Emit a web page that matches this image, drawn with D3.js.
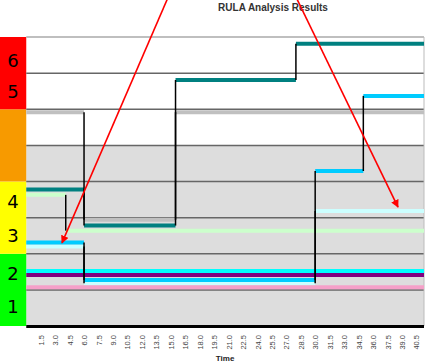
<!DOCTYPE html>
<html>
<head>
<meta charset="utf-8">
<title>RULA Analysis Results</title>
<style>
    body { margin: 0; background: #fff; }
    svg { display: block; font-family: "Liberation Sans", Arial, sans-serif; }
</style>
</head>
<body>
<div id="chart"></div>
<script src="https://d3js.org/d3.v7.min.js"></script>
<script>

// time axis labels
var timeTicks = ["1.5","3.0","4.5","6.0","7.5","9.0","10.5","12.0","13.5","15.0","16.5","18.0","19.5",
    "21.0","22.5","24.0","25.5","27.0","28.5","30.0","31.5","33.0","34.5","36.0","37.5","39.0","40.5"];

// score zones on the left strip
var zoneFrom   = [0, 2, 4, 6];
var zoneTo     = [2, 4, 6, 8];
var zoneColors = ["#00ff00", "#ffff00", "#f79a00", "#ff0000"];
var scoreLabels = ["1", "2", "3", "4", "5", "6"];
var scoreLabelAt = [0.55, 1.45, 2.5, 3.45, 6.5, 7.35];

// each series: times where the value changes, value held until the next change
var seriesNames  = ["gray", "lightGreen", "lightCyan", "skyBlue", "cyan", "purple", "pink", "teal"];
var seriesColors = ["#c0c0c0", "#ccffcc", "#ccffff", "#00ccff", "#00ffff", "#800080", "#f5a0c8", "#008080"];
var grayTimes       = [0, 6, 15.5];
var grayValues      = [5.92, 2.94, 5.92];
var lightGreenTimes = [0, 4.1];
var lightGreenValues= [3.63, 2.64];
var lightCyanTimes  = [0, 6, 30];
var lightCyanValues = [2.2, 1.18, 3.18];
var skyBlueTimes    = [0, 6, 30, 35];
var skyBlueValues   = [2.31, 1.27, 4.29, 6.37];
var cyanTimes       = [0];
var cyanValues      = [1.52];
var purpleTimes     = [0];
var purpleValues    = [1.41];
var pinkTimes       = [0];
var pinkValues      = [1.07];
var tealTimes       = [0, 6, 15.5, 28];
var tealValues      = [3.78, 2.78, 6.81, 7.81];

// red annotation arrows, [time, score] from -> to
var arrowFrom = [[14.73, 9.1], [28.02, 9.1]];
var arrowTo   = [[3.71, 2.3], [38.6, 3.29]];

var tEnd = 41.3;

var seriesTimes  = [grayTimes, lightGreenTimes, lightCyanTimes, skyBlueTimes, cyanTimes, purpleTimes, pinkTimes, tealTimes];
var seriesValues = [grayValues, lightGreenValues, lightCyanValues, skyBlueValues, cyanValues, purpleValues, pinkValues, tealValues];

var W = 429, H = 364;
var plotLeft = 26.25, plotRight = 424, plotTop = 37, plotBottom = 326;

var x = d3.scaleLinear().domain([0, tEnd]).range([plotLeft, plotRight]);
var y = d3.scaleLinear().domain([0, 8]).range([plotBottom, plotTop]);

var svg = d3.select("#chart").append("svg")
    .attr("width", W)
    .attr("height", H);

// plot background: white above 5, grey below
svg.append("rect")
    .attr("x", x(0)).attr("y", y(8))
    .attr("width", x(tEnd) - x(0)).attr("height", y(0) - y(8))
    .attr("fill", "#fff");
svg.append("rect")
    .attr("x", x(0)).attr("y", y(5))
    .attr("width", x(tEnd) - x(0)).attr("height", y(0) - y(5))
    .attr("fill", "#dddddd");

// left colour strip
svg.selectAll(".zone")
    .data(zoneFrom)
    .enter().append("rect")
    .attr("class", "zone")
    .attr("x", 0)
    .attr("y", function(d, i) { return y(zoneTo[i]); })
    .attr("width", x(0))
    .attr("height", function(d, i) { return y(zoneFrom[i]) - y(zoneTo[i]); })
    .attr("fill", function(d, i) { return zoneColors[i]; });

svg.selectAll(".score")
    .data(scoreLabels)
    .enter().append("text")
    .attr("class", "score")
    .attr("x", 13)
    .attr("y", function(d, i) { return y(scoreLabelAt[i]); })
    .attr("dy", "0.36em")
    .attr("text-anchor", "middle")
    .style("font-family", "'DejaVu Sans', sans-serif")
    .style("font-size", "18px")
    .text(function(d) { return d; });

// horizontal grid lines
svg.selectAll(".grid")
    .data(d3.range(1, 9))
    .enter().append("line")
    .attr("class", "grid")
    .attr("x1", x(0)).attr("x2", x(tEnd))
    .attr("y1", function(d) { return y(d); })
    .attr("y2", function(d) { return y(d); })
    .attr("stroke", function(d) { return d == 8 ? "#aaa" : "#666"; })
    .attr("stroke-width", 1.5);

// right border
svg.append("line")
    .attr("x1", x(tEnd)).attr("x2", x(tEnd))
    .attr("y1", y(8)).attr("y2", y(0))
    .attr("stroke", "#bbb");

// series: flat runs in colour, risers in black
var runs = svg.append("g");
var risers = svg.append("g");

seriesNames.forEach(function(name, s) {
    var ts = seriesTimes[s], vs = seriesValues[s];
    ts.forEach(function(t, i) {
        var tNext = i < ts.length - 1 ? ts[i + 1] : tEnd;
        runs.append("line")
            .attr("class", name)
            .attr("x1", x(t)).attr("x2", x(tNext))
            .attr("y1", y(vs[i])).attr("y2", y(vs[i]))
            .attr("stroke", seriesColors[s])
            .attr("stroke-width", 4);
        if (i > 0) {
            risers.append("line")
                .attr("x1", x(t)).attr("x2", x(t))
                .attr("y1", y(vs[i - 1])).attr("y2", y(vs[i]))
                .attr("stroke", "#000")
                .attr("stroke-width", 1.5);
        }
    });
});

// bottom axis
var xAxis = d3.axisBottom(x)
    .tickValues(timeTicks.map(Number))
    .tickFormat(function(d, i) { return timeTicks[i]; })
    .tickSize(0);

var gx = svg.append("g")
    .attr("transform", "translate(0," + plotBottom + ")")
    .call(xAxis);
gx.select(".domain").remove();
gx.selectAll("text")
    .attr("transform", "rotate(-90)")
    .attr("x", -9)
    .attr("y", 0)
    .attr("dy", "0.35em")
    .attr("text-anchor", "end")
    .attr("fill", "#444")
    .style("font-size", "7.5px");

svg.append("line")
    .attr("x1", x(0)).attr("x2", x(tEnd))
    .attr("y1", plotBottom + 0.5).attr("y2", plotBottom + 0.5)
    .attr("stroke", "#000")
    .attr("stroke-width", 3);

svg.append("text")
    .attr("x", (plotLeft + plotRight) / 2)
    .attr("y", 361)
    .attr("text-anchor", "middle")
    .style("font-size", "8px")
    .style("font-weight", "bold")
    .attr("fill", "#222")
    .text("Time");

svg.append("text")
    .attr("x", 273)
    .attr("y", 11)
    .attr("text-anchor", "middle")
    .style("font-size", "10px")
    .style("font-weight", "bold")
    .attr("fill", "#333")
    .text("RULA Analysis Results");

// annotation arrows
svg.append("defs").append("marker")
    .attr("id", "head")
    .attr("viewBox", "0 0 10 10")
    .attr("refX", 9).attr("refY", 5)
    .attr("markerWidth", 5).attr("markerHeight", 5)
    .attr("orient", "auto")
    .append("path")
    .attr("d", "M0,0L10,5L0,10z")
    .attr("fill", "#ff0000");

svg.selectAll(".arrow")
    .data(arrowFrom)
    .enter().append("line")
    .attr("class", "arrow")
    .attr("x1", function(d) { return x(d[0]); })
    .attr("y1", function(d) { return y(d[1]); })
    .attr("x2", function(d, i) { return x(arrowTo[i][0]); })
    .attr("y2", function(d, i) { return y(arrowTo[i][1]); })
    .attr("stroke", "#ff0000")
    .attr("stroke-width", 1.6)
    .attr("marker-end", "url(#head)");

</script>
</body>
</html>
